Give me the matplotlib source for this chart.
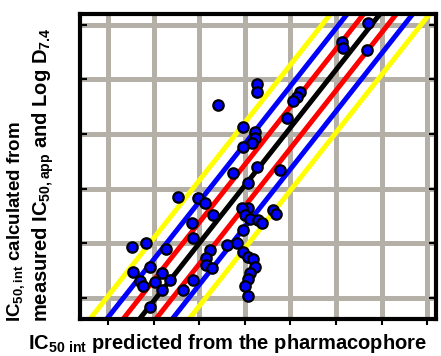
import numpy as np
import matplotlib
matplotlib.use('Agg')
import matplotlib.pyplot as plt

plt.rcParams['font.family'] = ['Liberation Sans', 'DejaVu Sans']
plt.rcParams['mathtext.fontset'] = 'custom'
plt.rcParams['mathtext.rm'] = 'Liberation Sans:bold'
plt.rcParams['mathtext.it'] = 'Liberation Sans:bold'
plt.rcParams['mathtext.bf'] = 'Liberation Sans:bold'

# valores (unidades de grade)
ic50_pred = [6.70, 6.13, 6.15, 6.68, 4.27, 4.27, 3.41, 5.21, 5.14, 5.06,
             4.93, 3.96, 4.22, 4.22, 4.16, 3.96, 4.27, 4.77, 3.74, 4.07,
             2.54, 2.97, 3.13, 4.07, 3.94, 4.62, 4.68, 3.30, 4.00, 4.11,
             4.29, 4.38, 2.84, 3.96, 2.86, 3.24, 3.61, 3.83, 3.96, 4.07,
             4.18, 3.15, 3.15, 3.28, 4.22, 4.11, 4.07, 4.00, 4.07, 1.53,
             1.83, 2.27, 1.55, 1.92, 1.70, 1.77, 2.03, 2.18, 2.36, 2.18,
             1.92, 2.64, 2.86]
ic50_calc = [6.04, 5.69, 5.58, 5.54, 4.92, 4.77, 4.53, 4.77, 4.68, 4.61,
             4.30, 4.13, 4.04, 3.93, 3.84, 3.77, 3.40, 3.34, 3.29, 3.11,
             2.85, 2.83, 2.74, 2.65, 2.65, 2.61, 2.54, 2.52, 2.52, 2.45,
             2.43, 2.37, 2.37, 2.25, 2.10, 1.88, 1.97, 2.01, 1.84, 1.75,
             1.71, 1.73, 1.60, 1.55, 1.57, 1.46, 1.35, 1.22, 1.04, 1.93,
             2.01, 1.90, 1.48, 1.57, 1.31, 1.22, 1.29, 1.46, 1.33, 1.15,
             0.84, 1.15, 1.33]

# linha de identidade e faixas
inclinacao = 1.06
intercepto = -1.18
faixas = [1.15, 0.76, 0.38, 0.0, -0.38, -0.76, -1.15]
cores = ['#ffff00', '#0000ff', '#ff0000', '#000000', '#ff0000', '#0000ff', '#ffff00']

fig = plt.figure(figsize=(4.41, 3.56), dpi=100)
ax = fig.add_axes([0.181, 0.104, 0.808, 0.857])

ax.set_xlim(0.386, 8.19)
ax.set_ylim(0.615, 6.20)

for v in range(1, 9):
    ax.axvline(v, color='#b4b0a8', linewidth=3.6, zorder=1)
for h in range(1, 7):
    ax.axhline(h, color='#b4b0a8', linewidth=3.6, zorder=1)

xs = np.array([0.0, 9.0])
for d, c in zip(faixas, cores):
    ax.plot(xs, inclinacao * xs + intercepto + d, color=c, linewidth=3.6, zorder=2)

ax.plot(ic50_pred, ic50_calc, 'o', markersize=7.5, markerfacecolor='#0000ff',
        markeredgecolor='black', markeredgewidth=1.6, zorder=3)

ax.set_xticks(range(1, 9))
ax.set_yticks(range(1, 7))
ax.set_xticklabels([])
ax.set_yticklabels([])
ax.tick_params(axis='x', direction='out', length=4, width=1.5, color='black')
ax.tick_params(axis='y', direction='in', length=5, width=1.5, color='black', right=True)
for s in ax.spines.values():
    s.set_linewidth(3)

fig.text(0.515, 0.035, r'IC$_{\mathrm{50\ int}}$ predicted from the pharmacophore',
         ha='center', va='center', fontsize=14.5, fontweight='bold')
fig.text(0.036, 0.095, r'IC$_{\mathrm{50,int}}$ calculated from', rotation=90,
         rotation_mode='anchor', ha='left', va='center', fontsize=13.5, fontweight='bold')
fig.text(0.098, 0.095, r'measured IC$_{\mathrm{50,app}}$ and Log D$_{\mathrm{7.4}}$', rotation=90,
         rotation_mode='anchor', ha='left', va='center', fontsize=14.5, fontweight='bold')

plt.savefig('out.png', dpi=100)
